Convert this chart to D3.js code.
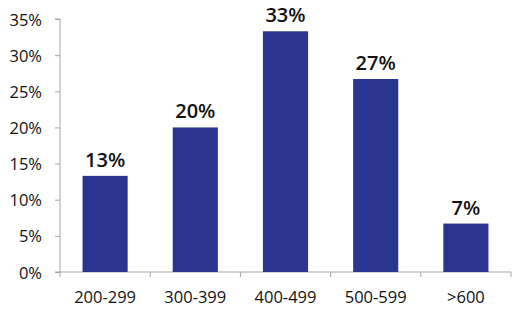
<!DOCTYPE html>
<html>
<head>
<meta charset="utf-8">
<script src="https://cdn.jsdelivr.net/npm/d3@7"></script>
<style>
  body { margin: 0; background: #fff; }
  text { font-family: "Open Sans", sans-serif; fill: #111; }
</style>
</head>
<body>
<div id="chart"></div>
<script>
// categories and values (percent)
const categories = ['200-299', '300-399', '400-499', '500-599', '>600'];
const values = [13.3, 20.0, 33.3, 26.7, 6.7];
const yTicks = [0, 5, 10, 15, 20, 25, 30, 35];

const width = 522, height = 312;
const margin = {top: 19, right: 11, bottom: 40, left: 60};

const svg = d3.select('#chart').append('svg')
    .attr('width', width)
    .attr('height', height);

const x = d3.scaleBand()
    .domain(categories)
    .range([margin.left, width - margin.right])
    .paddingInner(0.5)
    .paddingOuter(0.25);

const y = d3.scaleLinear()
    .domain([0, 35])
    .range([height - margin.bottom, margin.top]);

const axisColor = '#a6a6a6';

// y axis
const yAxis = svg.append('g')
    .attr('transform', `translate(${margin.left},0)`)
    .call(d3.axisLeft(y).tickValues(yTicks).tickSize(5).tickPadding(13).tickFormat(d => d + '%'));
yAxis.select('.domain').attr('stroke', axisColor).attr('d', `M-5,${y(35)}H0V${y(0) + 5}`);
yAxis.selectAll('.tick line').attr('stroke', axisColor);
yAxis.selectAll('.tick text')
    .attr('font-size', 16.5)
    .attr('font-family', '"Open Sans", sans-serif')
    .attr('fill', '#111')
    .attr('dy', '0.37em');

// x axis line with ticks at band boundaries
const x0 = margin.left, x1 = width - margin.right;
const g = svg.append('g');
g.append('line')
    .attr('x1', x0 - 5).attr('x2', x1)
    .attr('y1', y(0)).attr('y2', y(0))
    .attr('stroke', axisColor);
for (let i = 1; i <= categories.length; i++) {
    const bx = x0 + i * x.step();
    g.append('line')
        .attr('x1', bx).attr('x2', bx)
        .attr('y1', y(0)).attr('y2', y(0) + 5)
        .attr('stroke', axisColor);
}

// x labels
svg.append('g').selectAll('text')
    .data(categories)
    .join('text')
    .attr('x', d => x(d) + x.bandwidth() / 2)
    .attr('y', y(0) + 31)
    .attr('text-anchor', 'middle')
    .attr('font-size', 16.5)
    .text(d => d);

// bars
svg.append('g').selectAll('rect')
    .data(values)
    .join('rect')
    .attr('x', (d, i) => x(categories[i]))
    .attr('y', d => y(d))
    .attr('width', x.bandwidth())
    .attr('height', d => y(0) - y(d))
    .attr('fill', '#29358f');

// data labels
svg.append('g').selectAll('text')
    .data(values)
    .join('text')
    .attr('x', (d, i) => x(categories[i]) + x.bandwidth() / 2)
    .attr('y', d => y(d) - 9)
    .attr('text-anchor', 'middle')
    .attr('font-size', 20)
    .attr('font-weight', 600)
    .text(d => Math.round(d) + '%');
</script>
</body>
</html>
